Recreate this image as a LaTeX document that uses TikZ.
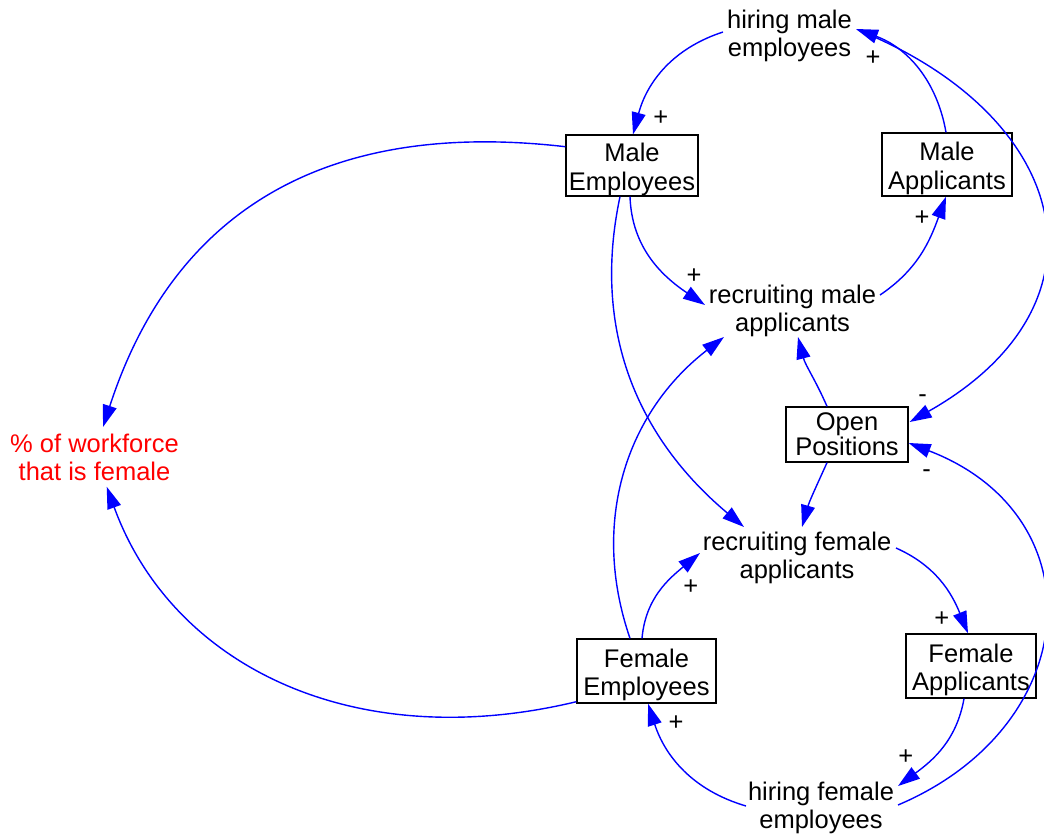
\documentclass[tikz,border=0pt]{standalone}
\usepackage{fontspec}
\setmainfont{Liberation Sans}
\usetikzlibrary{arrows.meta}
% invisible rule that pushes the two-line stock labels a little downwards
\newcommand\boxstrut{\rule{0pt}{26.6pt}}
\begin{document}
\begin{tikzpicture}[x=1pt,y=1pt,
  every node/.style={inner sep=0pt, font=\fontsize{25.5}{28.5}\selectfont},
  stock/.style={draw=black, line width=1.3pt, align=center},
  aux/.style={align=center},
  link/.style={draw=blue, line width=1.4pt, -{Triangle[length=22pt,width=14pt]}},
  polarity/.style={text=black}]

\fill[white] (0,0) rectangle (1044,-836);
\useasboundingbox (0,0) rectangle (1044,-836);

% stocks
\node[stock, minimum width=132pt, minimum height=61pt] (ME) at (632,-165.5) {\boxstrut Male\\Employees};
\node[stock, minimum width=130pt, minimum height=63pt] (MA) at (947,-164.5) {\boxstrut Male\\Applicants};
\node[stock, minimum width=122pt, minimum height=55pt, font=\fontsize{25.5}{25}\selectfont] (OP) at (847,-434.5) {Open\\Positions};
\node[stock, minimum width=139pt, minimum height=64pt] (FE) at (646.5,-671) {\boxstrut Female\\Employees};
\node[stock, minimum width=130pt, minimum height=64pt] (FA) at (971,-666) {\boxstrut Female\\Applicants};

% auxiliary variables
\node[aux] (HM) at (789.5,-36) {hiring male\\employees};
\node[aux] (RM) at (792.5,-311) {recruiting male\\applicants};
\node[aux] (RF) at (797,-557.7) {recruiting female\\applicants};
\node[aux] (HF) at (821,-807.7) {hiring female\\employees};
\node[aux, text=red] (PW) at (94.5,-457.4) {\% of workforce\\that is female};

% causal links
\draw[link] ([shift={(-66.5,4)}]HM.center) to[out=198,in=75] ([xshift=1]ME.north);
\draw[link] ([xshift=-1]MA.north) to[out=100,in=340] ([shift={(66.5,7)}]HM.center);
\draw[link] ([shift={(68.5,6)}]HM.center) to[out=-22,in=29.5,out distance=230pt,in distance=240pt] ([shift={(1,12.5)}]OP.east);
\draw[link] ([xshift=-2]ME.south) to[out=272,in=146] ([shift={(-87.5,6)}]RM.center);
\draw[link] ([shift={(87.5,16)}]RM.center) to[out=34,in=250] ([xshift=-1]MA.south);
\draw[link] ([xshift=-20]OP.north) to[out=113.6,in=284.5] ([shift={(5.5,-26)}]RM.center);
\draw[link] ([xshift=-20]OP.south) to[out=245.7,in=74] ([shift={(5,30.7)}]RF.center);
\draw[link] ([xshift=-12]ME.south) to[out=258,in=140] ([shift={(-53,30.7)}]RF.center);
\draw[link] ([xshift=-16.5]FE.north) to[out=109,in=217.7] ([shift={(-68.5,-26)}]RM.center);
\draw[link] ([xshift=-4.5]FE.north) to[out=85,in=219.6] ([shift={(-97,4.7)}]RF.center);
\draw[link] ([shift={(99,9.7)}]RF.center) to[out=336,in=112] ([xshift=-3]FA.north);
\draw[link] ([xshift=-7]FA.south) to[out=260,in=36.4] ([shift={(77,21.7)}]HF.center);
\draw[link] ([shift={(-75,1.7)}]HF.center) to[out=163.6,in=288] ([xshift=1.5]FE.south);
\draw[link] ([shift={(77,2.7)}]HF.center) to[out=23,in=339,distance=203pt] ([yshift=-8.5]OP.east);
\draw[link] ([yshift=18.8]ME.west) to[out=173.4,in=72,out distance=260pt,in distance=210pt] ([shift={(8.5,30.4)}]PW.center);
\draw[link] ([yshift=-30.7]FE.west) to[out=193.5,in=290,out distance=230pt,in distance=190pt] ([shift={(12.2,-29.3)}]PW.center);

% link polarities
\node[polarity] (s1) at (660.7,-118.3) {+};
\node[polarity] (s2) at (873,-58.3) {+};
\node[polarity] (s3) at (922,-218.5) {+};
\node[polarity] (s4) at (694,-276) {+};
\node[polarity] (s5) at (922.5,-398.7) {-};
\node[polarity] (s6) at (926.7,-473.7) {-};
\node[polarity] (s7) at (690.7,-587) {+};
\node[polarity] (s8) at (941.7,-618.7) {+};
\node[polarity] (s9) at (905.7,-756.7) {+};
\node[polarity] (s10) at (676,-722.7) {+};
\end{tikzpicture}
\end{document}
